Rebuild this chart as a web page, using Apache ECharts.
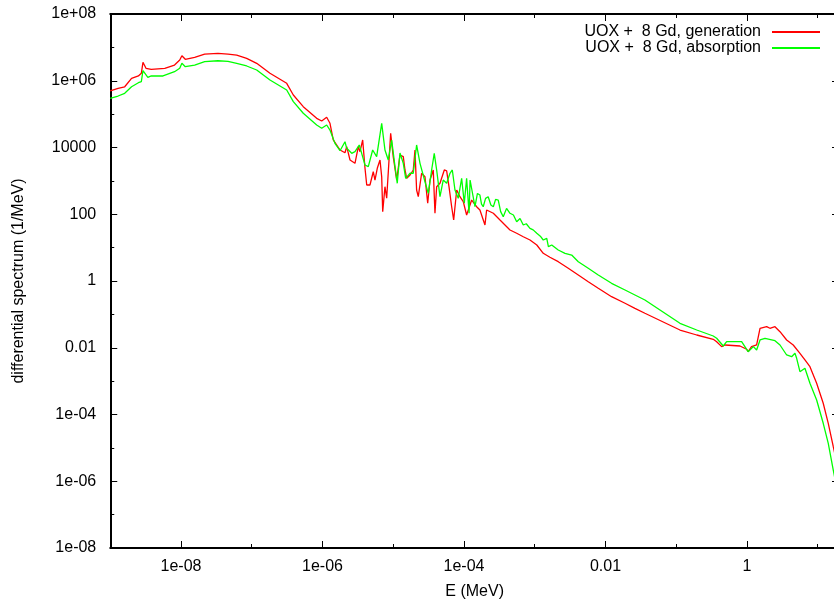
<!DOCTYPE html>
<html><head><meta charset="utf-8">
<script src="https://cdn.jsdelivr.net/npm/echarts@6/dist/echarts.min.js"></script>
<style>html,body{margin:0;padding:0;background:#fff}#c{width:834px;height:603px}</style>
</head><body><div id="c"></div>
<script>
const genE = [1.0e-9,1.29e-9,1.6e-9,2.0e-9,2.5e-9,2.75e-9,2.9e-9,3.2e-9,3.8e-9,5.9e-9,8.1e-9,9.6e-9,
1.03e-8,1.15e-8,1.56e-8,2.16e-8,3.33e-8,4.62e-8,6.13e-8,8.48e-8,
1.175e-7,1.81e-7,3.12e-7,3.87e-7,5.35e-7,8.28e-7,9.75e-7,
1.146e-6,1.276e-6,1.42e-6,1.77e-6,2.08e-6,2.20e-6,2.45e-6,2.88e-6,3.21e-6,3.39e-6,3.70e-6,3.99e-6,4.22e-6,4.69e-6,5.22e-6,5.52e-6,5.95e-6,6.50e-6,6.87e-6,7.10e-6,7.64e-6,8.08e-6,9.2e-6,
1.00e-5,1.12e-5,1.245e-5,1.387e-5,1.466e-5,1.55e-5,1.73e-5,1.92e-5,2.03e-5,2.14e-5,2.26e-5,2.52e-5,2.81e-5,3.07e-5,3.31e-5,3.68e-5,3.89e-5,4.11e-5,4.58e-5,5.27e-5,5.69e-5,6.14e-5,6.70e-5,7.15e-5,7.89e-5,8.77e-5,9.77e-5,
1.09e-4,1.285e-4,1.51e-4,1.68e-4,1.98e-4,2.09e-4,2.60e-4,3.23e-4,4.02e-4,4.47e-4,5.56e-4,6.89e-4,8.57e-4,
1.07e-3,1.32e-3,1.64e-3,2.15e-3,2.98e-3,4.13e-3,5.71e-3,7.91e-3,
1.22e-2,1.89e-2,2.61e-2,3.61e-2,
0.113,0.195,0.334,0.373,0.439,0.489,0.796,0.991,
1.04,1.16,1.37,1.53,1.90,2.11,2.49,2.93,3.64,4.51,5.61,6.60,7.77,9.66,11.97,14.1,16.6,20];
const genV = [5.0e5,5.9e5,6.6e5,1.18e6,1.39e6,1.67e6,3.57e6,2.36e6,2.20e6,2.36e6,2.96e6,4.18e6,
5.62e6,4.39e6,5.04e6,6.32e6,6.64e6,6.32e6,5.90e6,4.70e6,
3.33e6,1.67e6,8.38e5,3.74e5,1.67e5,7.49e4,6.22e4,
8.03e4,5.31e4,1.68e4,8.41e3,6.98e3,1.06e4,4.22e3,3.36e3,1.06e4,7.48e3,1.68e4,2.38e3,752,752,1.88e3,1.06e3,2.38e3,4.22e3,1.33e3,119,669,301,2.66e4,
5.30e3,1.06e3,5.96e3,5.30e3,2.12e3,1.19e3,1.50e3,2.12e3,8.41e3,532,336,1.69e3,1.33e3,213,1.06e3,2.12e3,107,669,845,2.12e3,2.0e3,669,168,67.3,532,336,238,
94.9,267,168,134,47.6,134,107,67.3,42.4,33.7,26.9,21.2,16.9,
12.0,6.76,5.13,3.79,2.40,1.51,0.953,0.604,
0.339,0.215,0.152,0.108,
0.0340,0.0241,0.0179,0.0152,0.0108,0.0121,0.0113,0.0090,
0.00762,0.0108,0.0121,0.0383,0.0428,0.0383,0.0428,0.0303,0.0171,0.0121,0.00682,0.00430,0.00271,8.61e-4,2.17e-4,5.45e-5,1.09e-5,1.8e-6];

const absE = [1.0e-9,1.29e-9,1.6e-9,2.0e-9,2.5e-9,2.75e-9,2.9e-9,3.4e-9,3.8e-9,5.57e-9,8.1e-9,9.6e-9,
1.03e-8,1.15e-8,1.56e-8,2.16e-8,3.33e-8,4.62e-8,6.13e-8,8.48e-8,
1.175e-7,1.81e-7,3.12e-7,3.87e-7,5.35e-7,8.28e-7,9.75e-7,
1.146e-6,1.276e-6,1.50e-6,1.77e-6,2.08e-6,2.20e-6,2.59e-6,2.88e-6,3.31e-6,3.58e-6,3.99e-6,4.44e-6,5.12e-6,5.83e-6,6.87e-6,7.64e-6,8.51e-6,9.50e-6,
1.06e-5,1.14e-5,1.245e-5,1.387e-5,1.50e-5,1.73e-5,1.92e-5,2.14e-5,2.39e-5,2.81e-5,3.13e-5,3.49e-5,3.80e-5,4.11e-5,4.58e-5,5.09e-5,5.69e-5,6.34e-5,6.84e-5,7.46e-5,8.30e-5,9.27e-5,
1.01e-4,1.09e-4,1.18e-4,1.22e-4,1.31e-4,1.43e-4,1.55e-4,1.68e-4,1.77e-4,1.87e-4,2.02e-4,2.20e-4,2.40e-4,2.60e-4,2.80e-4,3.05e-4,3.30e-4,3.59e-4,4.00e-4,4.47e-4,5.00e-4,5.56e-4,6.20e-4,6.89e-4,7.60e-4,8.57e-4,9.50e-4,
1.07e-3,1.20e-3,1.32e-3,1.48e-3,1.56e-3,1.74e-3,2.15e-3,2.68e-3,3.33e-3,4.13e-3,5.71e-3,7.91e-3,
1.22e-2,1.89e-2,2.61e-2,3.61e-2,
0.113,0.195,0.334,0.373,0.463,0.516,0.841,
1.04,1.23,1.37,1.53,1.80,2.49,2.93,3.64,4.28,4.77,5.04,5.61,6.60,7.77,9.66,11.97,14.1,16.6,20];
const absV = [2.98e5,3.49e5,4.21e5,6.62e5,8.73e5,9.35e5,2.0e6,1.27e6,1.39e6,1.39e6,1.87e6,2.36e6,
3.33e6,2.64e6,2.96e6,3.72e6,3.98e6,3.82e6,3.33e6,2.77e6,
2.10e6,1.05e6,5.28e5,2.36e5,1.06e5,4.72e4,3.76e4,
4.72e4,3.34e4,1.33e4,8.02e3,1.49e4,9.46e3,6.70e3,7.48e3,1.19e4,6.70e3,2.99e3,2.66e3,8.41e3,5.30e3,5.31e4,8.41e3,4.22e3,1.68e4,
2.66e3,845,6.84e3,3.36e3,1.19e3,1.69e3,1.69e3,1.19e4,3.36e3,944,424,2.12e3,6.70e3,2.12e3,336,1.06e3,845,1.69e3,2.12e3,532,301,1.19e3,
213,1.19e3,107,1.06e3,464,168,420,377,200,168,300,336,190,168,280,267,120,84.4,150,107,95,59.8,75,47.6,52,37.9,34,
26.9,22,16.9,19.0,10.7,12.0,8.49,6.76,6.01,3.79,2.40,1.51,
0.853,0.537,0.381,0.270,
0.0540,0.0340,0.0225,0.0192,0.0113,0.0152,0.0152,
0.00762,0.0108,0.00857,0.0171,0.0192,0.0163,0.0121,0.00607,0.00540,0.00682,0.00483,0.00192,0.00242,8.61e-4,2.72e-4,5.45e-5,1.37e-5,2.17e-6,2.7e-7];

const seriesNames = ['UOX +  8 Gd, generation', 'UOX +  8 Gd, absorption'];
const seriesColors = ['#ff0000', '#00ff00'];
const xTickExps = [-8, -6, -4, -2, 0];
const xTickLabels = ['1e-08', '1e-06', '1e-04', '0.01', '1'];
const yTickExps = [8, 6, 4, 2, 0, -2, -4, -6, -8];
const yTickLabels = ['1e+08', '1e+06', '10000', '100', '1', '0.01', '1e-04', '1e-06', '1e-08'];
const xTitle = 'E (MeV)';
const yTitle = 'differential spectrum (1/MeV)';

const FONT = '"Liberation Sans", Arial, Helvetica, sans-serif';
function labelFor(exps, labels) {
  return function (v) {
    if (!(v > 0)) return '';
    const l = Math.log10(v), e = Math.round(l);
    if (Math.abs(l - e) > 1e-6) return '';
    const i = exps.indexOf(e);
    return i < 0 ? '' : labels[i];
  };
}
const lineBlack = { show: true, onZero: false, lineStyle: { color: '#000', width: 2 } };
function tick(len) { return { show: true, inside: true, length: len, lineStyle: { color: '#000', width: 1 } }; }

const X0 = { type: 'log', min: 1e-9, max: 20, interval: 1 };
const X1 = { type: 'log', min: 1e-8, max: 20, interval: 2 };
const Y1 = { type: 'log', min: 1e-8, max: 1e8, interval: 1 };
const Y2 = { type: 'log', min: 1e-8, max: 1e8, interval: 2 };

const chart = echarts.init(document.getElementById('c'), null, { renderer: 'canvas' });
chart.setOption({
  animation: false,
  backgroundColor: '#fff',
  grid: [
    { left: 110.25, width: 728.75, top: 14, height: 534, containLabel: false, outerBoundsMode: 'none' },
    { left: 181, width: 658, top: 14, height: 534, containLabel: false, outerBoundsMode: 'none' }
  ],
  legend: {
    data: seriesNames, orient: 'vertical', right: 14, top: 24, align: 'right',
    itemWidth: 48, itemHeight: 2, itemGap: 0, icon: 'rect', padding: 0,
    textStyle: { fontSize: 16, fontFamily: FONT, color: '#000', lineHeight: 16, padding: [0, 6, 0, 0] }
  },
  xAxis: [
    Object.assign({}, X0, { gridIndex: 0, position: 'bottom', axisLine: lineBlack, axisTick: tick(4), axisLabel: { show: false }, splitLine: { show: false },
      name: xTitle, nameLocation: 'middle', nameGap: 36, nameTextStyle: { fontSize: 16, fontFamily: FONT, color: '#000' } }),
    Object.assign({}, X1, { gridIndex: 1, position: 'bottom', axisLine: { show: false, onZero: false }, axisTick: tick(7),
      axisLabel: { show: true, margin: 11, fontSize: 16, fontFamily: FONT, color: '#000', formatter: labelFor(xTickExps, xTickLabels), showMinLabel: true, showMaxLabel: true },
      splitLine: { show: false } }),
    Object.assign({}, X0, { gridIndex: 0, position: 'top', axisLine: lineBlack, axisTick: tick(4), axisLabel: { show: false }, splitLine: { show: false } }),
    Object.assign({}, X1, { gridIndex: 1, position: 'top', axisLine: { show: false, onZero: false }, axisTick: tick(7), axisLabel: { show: false }, splitLine: { show: false } })
  ],
  yAxis: [
    Object.assign({}, Y1, { gridIndex: 0, position: 'left', axisLine: lineBlack, axisTick: tick(4), axisLabel: { show: false }, splitLine: { show: false },
      name: yTitle, nameLocation: 'middle', nameGap: 84, nameTextStyle: { fontSize: 16, fontFamily: FONT, color: '#000' } }),
    Object.assign({}, Y2, { gridIndex: 0, position: 'left', axisLine: { show: false, onZero: false }, axisTick: tick(7),
      axisLabel: { show: true, margin: 14, fontSize: 16, fontFamily: FONT, color: '#000', formatter: labelFor(yTickExps, yTickLabels), showMinLabel: true, showMaxLabel: true },
      splitLine: { show: false } }),
    Object.assign({}, Y1, { gridIndex: 0, position: 'right', axisLine: lineBlack, axisTick: tick(4), axisLabel: { show: false }, splitLine: { show: false } }),
    Object.assign({}, Y2, { gridIndex: 0, position: 'right', axisLine: { show: false, onZero: false }, axisTick: tick(7), axisLabel: { show: false }, splitLine: { show: false } }),
    Object.assign({}, Y1, { gridIndex: 1, show: false })
  ],
  series: [
    { type: 'line', name: seriesNames[0], xAxisIndex: 0, yAxisIndex: 0, showSymbol: false, symbol: 'none', clip: true,
      data: genE.map((e, i) => [e, genV[i]]), lineStyle: { color: seriesColors[0], width: 1.3 }, itemStyle: { color: seriesColors[0] } },
    { type: 'line', name: seriesNames[1], xAxisIndex: 0, yAxisIndex: 0, showSymbol: false, symbol: 'none', clip: true,
      data: absE.map((e, i) => [e, absV[i]]), lineStyle: { color: seriesColors[1], width: 1.3 }, itemStyle: { color: seriesColors[1] } }
  ]
});
</script></body></html>
